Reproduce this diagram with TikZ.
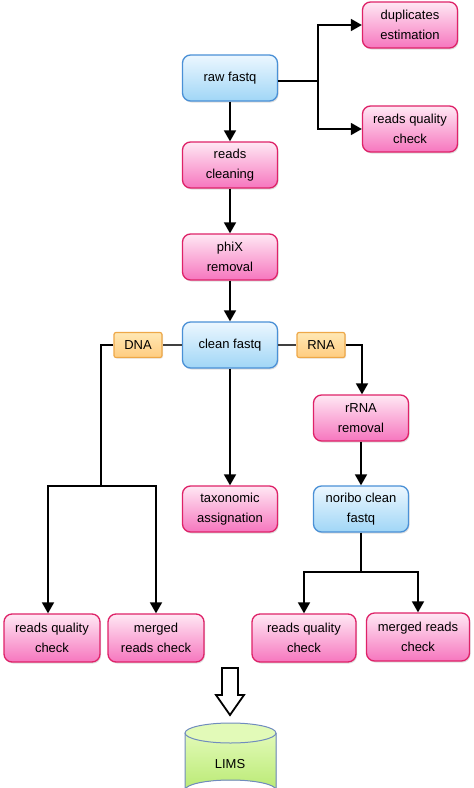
\documentclass[tikz,border=0pt]{standalone}
\usepackage{fontspec}
\setmainfont{Liberation Sans}
\usepackage{tikz}
\usetikzlibrary{arrows,arrows.meta,positioning,shadows}

\definecolor{pinkline}{RGB}{222,34,104}
\definecolor{pinktop}{RGB}{255,232,244}
\definecolor{pinkbot}{RGB}{246,118,190}
\definecolor{blueline}{RGB}{74,144,214}
\definecolor{bluetop}{RGB}{236,247,255}
\definecolor{bluebot}{RGB}{160,214,246}
\definecolor{orgline}{RGB}{238,168,72}
\definecolor{orgtop}{RGB}{255,232,180}
\definecolor{orgbot}{RGB}{255,204,128}
\definecolor{limsline}{RGB}{112,140,190}
\definecolor{limstop}{RGB}{226,250,184}
\definecolor{limsbot}{RGB}{186,234,116}

\tikzset{
  stepbase/.style={rounded corners=8pt, line width=1.3pt, align=center,
    minimum width=95pt, minimum height=46pt, inner sep=2pt,
    font=\fontsize{13}{20}\selectfont,
    drop shadow={opacity=.25, shadow xshift=1pt, shadow yshift=-1.5pt}},
  pinkbox/.style={stepbase, draw=pinkline, top color=pinktop, bottom color=pinkbot},
  bluebox/.style={stepbase, draw=blueline, top color=bluetop, bottom color=bluebot},
  tagbox/.style={rounded corners=2pt, line width=1.2pt, draw=orgline, top color=orgtop, bottom color=orgbot,
    minimum width=48pt, minimum height=25pt, inner sep=1pt,
    font=\fontsize{13}{15}\selectfont,
    drop shadow={opacity=.2, shadow xshift=1pt, shadow yshift=-1pt}},
  flow/.style={line width=1.7pt, -{Triangle[length=11pt,width=12pt]}},
  link/.style={line width=1.7pt},
  thinlink/.style={line width=1.1pt, black!75}
}

\begin{document}
\begin{tikzpicture}[x=1pt, y=-1pt]
\useasboundingbox (0,0) rectangle (474,788);
%% top part
\node[bluebox] (raw) at (230,78) {raw fastq};
\node[pinkbox] (dup) at (410,25) {duplicates\\estimation};
\node[pinkbox] (rawqc) at (410,129) {reads quality\\check};
\node[pinkbox] (cleaning) at (230,165) {reads\\cleaning};
\node[pinkbox] (phix) at (230,257) {phiX\\removal};
\node[bluebox] (cleanfq) at (230,345) {clean fastq};
%% split into DNA / RNA
\node[tagbox] (dna) at (138,345) {DNA};
\node[tagbox] (rna) at (321,345) {RNA};
\node[pinkbox] (rrna) at (361,418) {rRNA\\removal};
\node[pinkbox] (taxo) at (230,509) {taxonomic\\assignation};
\node[bluebox] (noribo) at (361,509) {noribo clean\\fastq};
%% checks
\node[pinkbox, minimum width=96pt, minimum height=48pt] (dnaqc) at (52,638) {reads quality\\check};
\node[pinkbox, minimum width=96pt, minimum height=48pt] (dnamerged) at (156,638) {merged\\reads check};
\node[pinkbox, minimum width=104pt, minimum height=48pt] (rnaqc) at (304,638) {reads quality\\check};
\node[pinkbox, minimum width=103pt, minimum height=48pt] (rnamerged) at (418,637) {merged reads\\check};

%% elbows
\coordinate (rawsplit) at (318,81);
\coordinate (dnacorner) at (101,345);
\coordinate (dnasplit) at (101,486);
\coordinate (rnacorner) at (362,345);
\coordinate (noribosplit) at (361,572);

\draw[flow] (raw.south) -- (cleaning.north);
\draw[link] (raw.east |- rawsplit) -- (rawsplit);
\draw[flow] (rawsplit) |- (dup.west);
\draw[flow] (rawsplit) |- (rawqc.west);
\draw[flow] (cleaning.south) -- (phix.north);
\draw[flow] (phix.south) -- (cleanfq.north);
\draw[thinlink] (cleanfq.west) -- (dna.east);
\draw[thinlink] (cleanfq.east) -- (rna.west);
\draw[flow] (cleanfq.south) -- (taxo.north);
\draw[link] (dna.west) -- (dnacorner) -- (dnasplit);
\draw[flow] (dnasplit) -| (dnaqc.north -| 48,0);
\draw[flow] (dnasplit) -| (dnamerged.north);
\draw[flow] (rna.east) -- (rnacorner) -- (rrna.north -| rnacorner);
\draw[flow] (rrna.south) -- (noribo.north);
\draw[link] (noribo.south) -- (noribosplit);
\draw[flow] (noribosplit) -| (rnaqc.north);
\draw[flow] (noribosplit) -| (rnamerged.north);

%% hollow arrow and database
\draw[line width=1.8pt, fill=white] (222,668) -- (238,668) -- (238,695) -- (244,695)
  -- (230,715) -- (216,695) -- (222,695) -- cycle;
\fill[top color=limstop, bottom color=limsbot] (185,733) -- (185,790) arc[start angle=180, end angle=360, x radius=45.5, y radius=10]
  -- (276,733) -- cycle;
\draw[limsline, line width=1pt] (185,733) -- (185,790) arc[start angle=180, end angle=360, x radius=45.5, y radius=10] -- (276,733);
\draw[limsline, line width=1pt, fill=limstop] (230.5,733) ellipse[x radius=45.5, y radius=10];
\node[font=\fontsize{13}{15}\selectfont] (lims) at (230,764) {LIMS};
\end{tikzpicture}
\end{document}
